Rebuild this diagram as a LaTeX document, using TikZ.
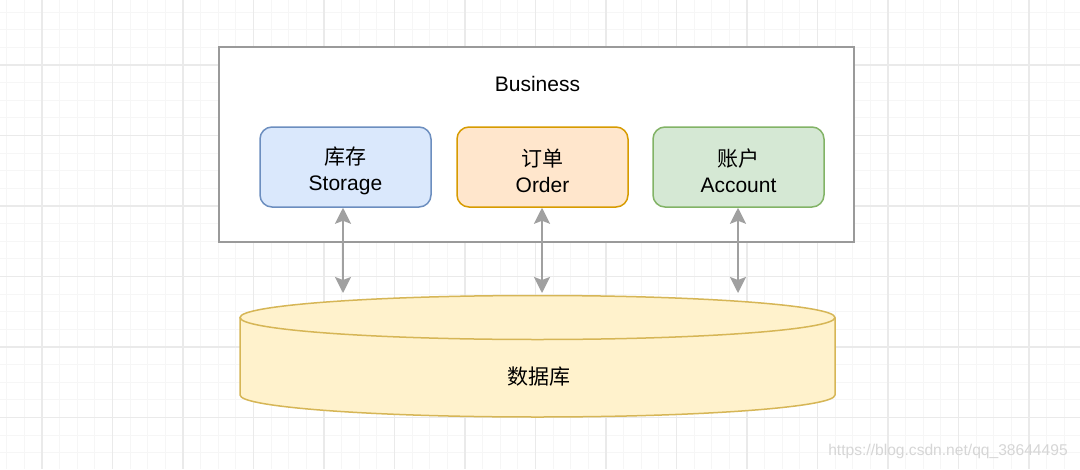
\documentclass[tikz,border=0pt]{standalone}
\usepackage{fontspec}
\setmainfont{Liberation Sans}
\newfontfamily\cjk{Noto Sans CJK SC}
\usetikzlibrary{arrows.meta}
\definecolor{gridminor}{HTML}{F6F6F6}
\definecolor{gridmajor}{HTML}{EAEAEA}
\definecolor{framegray}{HTML}{9A9A9A}
\definecolor{arrowgray}{HTML}{A0A0A0}
\definecolor{blueF}{HTML}{DAE8FC}
\definecolor{blueS}{HTML}{6C8EBF}
\definecolor{orangeF}{HTML}{FFE6CC}
\definecolor{orangeS}{HTML}{D79B00}
\definecolor{greenF}{HTML}{D5E8D4}
\definecolor{greenS}{HTML}{82B366}
\definecolor{dbF}{HTML}{FFF2CC}
\definecolor{dbS}{HTML}{D6B656}
\definecolor{wmark}{HTML}{D6D6D6}
\tikzset{
  module/.style={draw, line width=1.5pt, rounded corners=12pt, minimum width=171pt, minimum height=80pt, align=center, font=\fontsize{21}{26}\selectfont, inner sep=0pt},
  link/.style={draw=arrowgray, line width=2pt, {Stealth[length=16pt,width=16pt,inset=3pt]}-{Stealth[length=16pt,width=16pt,inset=3pt]}, color=arrowgray},
}
\begin{document}
\begin{tikzpicture}[x=1pt,y=-1pt]
\useasboundingbox (0,0) rectangle (1080,469);
\fill[white] (0,0) rectangle (1080,469);
% grid
\foreach \i in {0,...,61} {
  \draw[gridminor, line width=1pt] ({6.75+17.625*\i},0) -- ({6.75+17.625*\i},469);
}
\foreach \j in {-1,...,27} {
  \draw[gridminor, line width=1pt] (0,{12.1+17.625*\j}) -- (1080,{12.1+17.625*\j});
}
\foreach \i in {0,...,15} {
  \draw[gridmajor, line width=1.2pt] ({42+70.5*\i},0) -- ({42+70.5*\i},469);
}
\foreach \j in {0,...,6} {
  \draw[gridmajor, line width=1.2pt] (0,{-5.5+70.5*\j}) -- (1080,{-5.5+70.5*\j});
}
% business frame
\node[draw=framegray, fill=white, line width=2pt, minimum width=635pt, minimum height=195pt, inner sep=0pt] (biz) at (536.5,144.5) {};
\node[font=\fontsize{21}{25}\selectfont] (bizlabel) at (537.5,84) {Business};
% modules
\node[module, draw=blueS, fill=blueF] (storage) at (345.5,167) {};
\node[module, draw=orangeS, fill=orangeF] (order) at (542.5,167) {};
\node[module, draw=greenS, fill=greenF] (account) at (738.5,167) {};
\node[align=center, font=\fontsize{21}{26}\selectfont, inner sep=0pt] (storagetxt) at (345.5,171) {{\cjk 库存}\\Storage};
\node[align=center, font=\fontsize{21}{26}\selectfont, inner sep=0pt] (ordertxt) at (542.5,171) {{\cjk 订单}\\Order};
\node[align=center, font=\fontsize{21}{26}\selectfont, inner sep=0pt] (accounttxt) at (738.5,171) {{\cjk 账户}\\Account};
% database cylinder
\fill[dbF] (240,317.5) -- (240,395) arc[start angle=180, end angle=0, x radius=297.5, y radius=22] -- (835,317.5) -- cycle;
\draw[dbS, line width=1.5pt] (240,317.5) -- (240,395) arc[start angle=180, end angle=0, x radius=297.5, y radius=22] -- (835,317.5);
\draw[dbS, fill=dbF, line width=1.5pt] (537.5,317.5) ellipse[x radius=297.5, y radius=22];
\node[font=\fontsize{21}{25}\selectfont\cjk] (db) at (538.5,377) {数据库};
\coordinate (dbS1) at (343,293);
\coordinate (dbS2) at (542,293);
\coordinate (dbS3) at (738,293);
% links
\draw[link] (storage.south -| dbS1) -- (dbS1);
\draw[link] (order.south -| dbS2) -- (dbS2);
\draw[link] (account.south -| dbS3) -- (dbS3);
% watermark
\node[font=\fontsize{15.6}{18}\selectfont, text=wmark, inner sep=0pt] (wm) at (948,451) {https://blog.csdn.net/qq\_38644495};
\end{tikzpicture}
\end{document}
